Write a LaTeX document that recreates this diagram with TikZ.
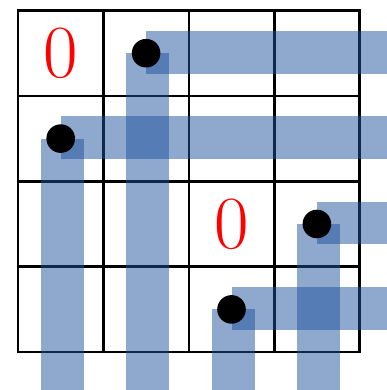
\documentclass[tikz,border=0pt]{standalone}
\usetikzlibrary{calc}
\definecolor{barblue}{RGB}{31,81,157}
\begin{document}
\begin{tikzpicture}[x=1pt,y=-1pt,
  gridline/.style={line width=2.6pt,black},
  bar/.style={fill=barblue,fill opacity=0.5},
  dot/.style={circle,fill=black,inner sep=0pt,minimum size=28.6pt},
  zero/.style={text=red,inner sep=0pt,font=\fontsize{75}{75}\selectfont}]
\useasboundingbox (0,0) rectangle (387,390);
\coordinate (E) at (387,0);
\coordinate (S) at (0,390);
% grid
\foreach \i in {1,2,3} {
  \draw[gridline] (18+85.4*\i,10.5) -- (18+85.4*\i,352);
  \draw[gridline] (18,10.5+85.375*\i) -- (359.6,10.5+85.375*\i);
}
\draw[gridline] (18,10.5) rectangle (359.6,352);
% zeros
\node[zero] (z1) at (60.7,53.2) {0};
\node[zero] (z2) at (231.5,224) {0};
% dot positions
\coordinate (p1) at (146.1,53.2);
\coordinate (p2) at (60.7,138.6);
\coordinate (p3) at (316.9,224);
\coordinate (p4) at (231.5,309.4);
% bars
\foreach \p in {p1,p2,p3,p4} {
  \fill[bar] ($(\p)+(0,-22.4)$) rectangle ($(\p -| E)+(0,20.4)$);
  \fill[bar] ($(\p)+(-19.7,0)$) rectangle ($(\p |- S)+(23.1,0)$);
}
% dots
\node[dot] (d1) at (p1) {};
\node[dot] (d2) at (p2) {};
\node[dot] (d3) at (p3) {};
\node[dot] (d4) at (p4) {};
\end{tikzpicture}
\end{document}
